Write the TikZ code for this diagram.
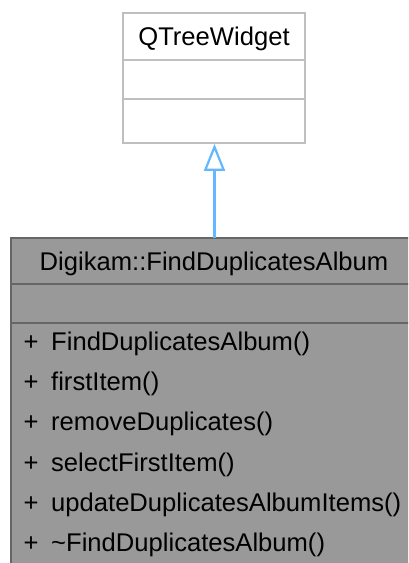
\documentclass[tikz,border=0pt]{standalone}
\usepackage{fontspec}
\setmainfont{Liberation Sans}
\usetikzlibrary{arrows.meta}
\definecolor{baseborder}{HTML}{BFBFBF}
\definecolor{clsfill}{HTML}{999999}
\definecolor{clsborder}{HTML}{666666}
\definecolor{inhblue}{HTML}{63B8FF}
\tikzset{
  classtext/.style={font=\fontsize{25.6}{30}\selectfont, inner sep=0pt, anchor=base, text=black},
  membertext/.style={font=\fontsize{25.6}{30}\selectfont, inner sep=0pt, anchor=base west, text=black},
  basebox/.style={draw=baseborder, line width=1.8pt, fill=white, inner sep=0pt},
  clsbox/.style={draw=clsborder, line width=2pt, fill=clsfill, inner sep=0pt},
  inherit/.style={draw=inhblue, line width=2.2pt, -{Triangle[open, length=27pt, width=21pt, fill=white]}}
}
\begin{document}
\begin{tikzpicture}[x=1pt,y=-1pt]
\useasboundingbox (0,0) rectangle (408,563);
\clip (0,0) rectangle (408,563);
% base class QTreeWidget
\node[basebox, minimum width=182pt, minimum height=130pt] (qtw) at (214,78) {};
\draw[baseborder, line width=1.8pt] (123,60) -- (305,60);
\draw[baseborder, line width=1.8pt] (123,99) -- (305,99);
\node[classtext] (qtwname) at (214,45) {QTreeWidget};
% derived class
\node[clsbox, minimum width=402pt, minimum height=330pt] (fda) at (212,403) {};
\draw[clsborder, line width=2pt] (11,284) -- (413,284);
\draw[clsborder, line width=2pt] (11,323) -- (413,323);
\node[classtext] (fdaname) at (214,270) {Digikam::FindDuplicatesAlbum};
\foreach \i/\t in {0/FindDuplicatesAlbum(),1/firstItem(),2/removeDuplicates(),3/selectFirstItem(),4/updateDuplicatesAlbumItems(),5/\textasciitilde FindDuplicatesAlbum()}{
  \node[membertext] (p\i) at (23.5,350.7+40.1*\i) {+};
  \node[membertext] (m\i) at (51,350.7+40.1*\i) {\t};
}
% inheritance
\coordinate (arrstart) at (214.5,238);
\draw[inherit] (arrstart) -- (qtw.south -| arrstart);
\end{tikzpicture}
\end{document}
